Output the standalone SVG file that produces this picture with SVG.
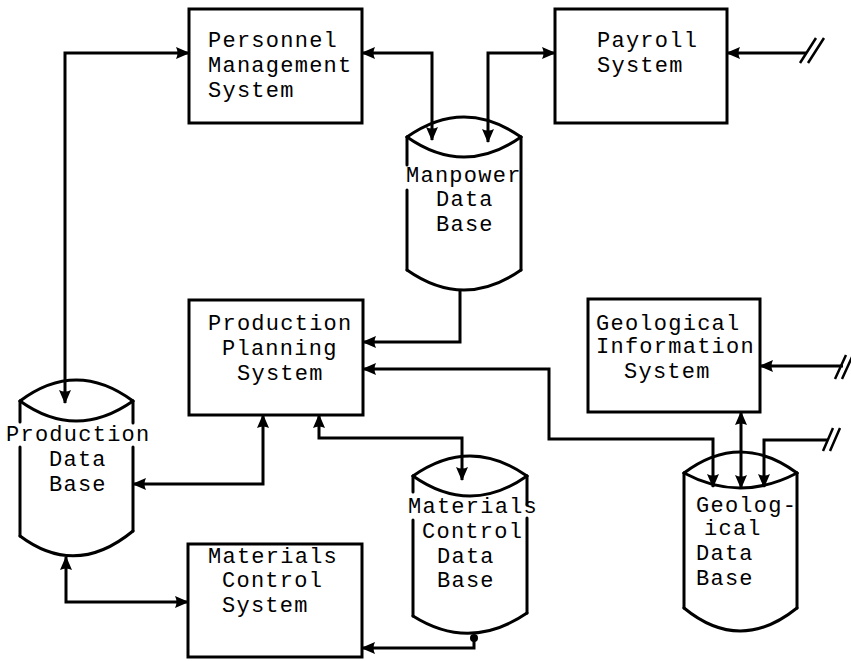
<svg xmlns="http://www.w3.org/2000/svg" width="851" height="661" viewBox="0 0 851 661">
<style>
  .box { fill: none; stroke: #000; stroke-width: 3; }
  .cyl path { fill: none; stroke: #000; stroke-width: 3; stroke-linecap: round; }
  .con { fill: none; stroke: #000; stroke-width: 3; stroke-linejoin: miter; }
  .a2 { marker-start: url(#arr); marker-end: url(#arr); }
  .ae { marker-end: url(#arr); }
  .as { marker-start: url(#arr); }
  .sl { stroke: #000; stroke-width: 2.5; fill: none; }
  text { font-family: "Liberation Mono", "Courier New", monospace; font-size: 22px; letter-spacing: 1.25px; fill: #000; }
</style>
<defs>
  <marker id="arr" viewBox="0 0 14 14" refX="13" refY="7" markerWidth="14" markerHeight="14" markerUnits="userSpaceOnUse" orient="auto-start-reverse">
    <path d="M0,1 L14,7 L0,13 Q3,7 0,1 z" fill="#000"/>
  </marker>
</defs>
<rect width="851" height="661" fill="#fff"/>

<g id="connectors">
  <path class="con a2" d="M65,403 V53 H189"/>
  <path class="con a2" d="M362,53 H432 V140"/>
  <path class="con a2" d="M555,53 H488 V142"/>
  <path class="con ae" d="M806,53 H727"/>
  <path class="sl" d="M800,63 L816,38 M808,63 L824,38"/>
  <path class="con ae" d="M460,290 V342 H363"/>
  <path class="con a2" d="M363,369 H549 V439 H713 V487"/>
  <path class="con a2" d="M741,412 V488"/>
  <path class="con ae" d="M828,440 H764 V487"/>
  <path class="sl" d="M823,451 L833,428 M830,451 L840,428"/>
  <path class="con ae" d="M843,366 H760"/>
  <path class="sl" d="M835,379 L846,355 M842,379 L853,355"/>
  <path class="con a2" d="M263,415 V484 H133"/>
  <path class="con a2" d="M319,415 V438 H462 V480"/>
  <path class="con a2" d="M66,557 V602 H188"/>
  <path class="con as" d="M362,648 H474 V637"/>
  <circle cx="474" cy="638" r="4" fill="#000"/>
</g>

<g id="personnel">
  <rect class="box" x="189" y="9" width="173" height="114"/>
  <text x="208" y="47">Personnel</text>
  <text x="208" y="72">Management</text>
  <text x="208" y="97">System</text>
</g>

<g id="payroll">
  <rect class="box" x="555" y="9" width="172" height="114"/>
  <text x="597" y="47">Payroll</text>
  <text x="597" y="72">System</text>
</g>

<g id="manpower" class="cyl">
  <path d="M407,137 Q464,97 521,137"/>
  <path d="M407,137 Q464,177 521,137"/>
  <path d="M407,137 V165 M407,190 V270"/>
  <path d="M521,137 V270"/>
  <path d="M407,270 Q464,310 521,270"/>
  <text x="406" y="182">Manpower</text>
  <text x="436" y="206">Data</text>
  <text x="436" y="231">Base</text>
</g>

<g id="production-planning">
  <rect class="box" x="189" y="300" width="174" height="115"/>
  <text x="208" y="330">Production</text>
  <text x="222" y="355">Planning</text>
  <text x="237" y="380">System</text>
</g>

<g id="geological-info">
  <rect class="box" x="588" y="299" width="172" height="113"/>
  <text x="596" y="330">Geological</text>
  <text x="596" y="353">Information</text>
  <text x="624" y="378">System</text>
</g>

<g id="production-db" class="cyl">
  <path d="M20,401 Q76,359 133,401"/>
  <path d="M20,401 Q76,441 133,401"/>
  <path d="M20,401 V422 M20,447 V536"/>
  <path d="M133,401 V423 M133,447 V531"/>
  <path d="M20,536 Q76,578 133,531"/>
  <text x="6" y="441">Production</text>
  <text x="49" y="466">Data</text>
  <text x="49" y="491">Base</text>
</g>

<g id="materials-control-system">
  <rect class="box" x="188" y="544" width="174" height="113"/>
  <text x="208" y="563">Materials</text>
  <text x="222" y="587">Control</text>
  <text x="222" y="612">System</text>
</g>

<g id="materials-control-db" class="cyl">
  <path d="M413,476 Q470,436 527,476"/>
  <path d="M413,476 Q470,516 527,476"/>
  <path d="M413,476 V492 M413,520 V616"/>
  <path d="M527,476 V505 M527,518 V613"/>
  <path d="M413,616 Q470,652 527,613"/>
  <text x="408" y="513">Materials</text>
  <text x="422" y="538">Control</text>
  <text x="437" y="563">Data</text>
  <text x="437" y="587">Base</text>
</g>

<g id="geological-db" class="cyl">
  <path d="M684,473 Q740,431 797,473"/>
  <path d="M684,473 Q740,503 797,473"/>
  <path d="M684,473 V608"/>
  <path d="M797,473 V608"/>
  <path d="M684,608 Q740,654 797,608"/>
  <text x="696" y="512">Geolog-</text>
  <text x="704" y="535">ical</text>
  <text x="696" y="560">Data</text>
  <text x="696" y="585">Base</text>
</g>
</svg>
